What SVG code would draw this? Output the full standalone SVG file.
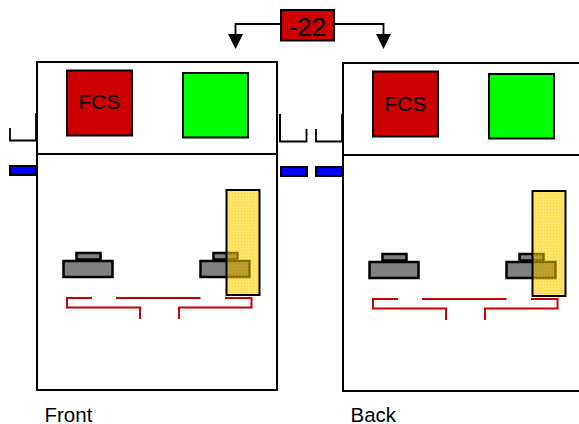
<svg xmlns="http://www.w3.org/2000/svg" width="579" height="424" viewBox="0 0 579 424">
<style>
text{font-family:"Liberation Sans",Arial,sans-serif;fill:#000}
.k{fill:none;stroke:#000;stroke-width:1.800}
.panel{fill:#fff;stroke:#000;stroke-width:2}
.fcs{fill:#cc0000;stroke:#000;stroke-width:2}
.grn{fill:#00ff00;stroke:#000;stroke-width:2}
.blu{fill:#0000ff;stroke:#000;stroke-width:2}
.gry{fill:#808080;stroke:#000;stroke-width:2.500}
.red{fill:none;stroke:#cc0000;stroke-width:2}
.yel{fill:url(#dots);stroke:#000;stroke-width:2}
.t21{font-size:21px}
.t{font-size:20.500px}
</style>
<defs>
<pattern id="dots" width="3" height="3" patternUnits="userSpaceOnUse">
<rect width="3" height="3" fill="#ffd000" fill-opacity=".58"/>
<rect x="1" y="1" width="1" height="1" fill="#ffc400" fill-opacity=".7"/>
</pattern>
<g id="unit">
<rect class="panel" x="37" y="62" width="240" height="328"/>
<line x1="36" y1="154" x2="277" y2="154" stroke="#000" stroke-width="2"/>
<rect class="gry" x="63.500" y="261" width="49" height="16"/>
<rect class="gry" x="76.500" y="253" width="24" height="6.500"/>
<rect class="gry" x="200.500" y="261" width="49" height="16"/>
<rect class="gry" x="213.500" y="253" width="24" height="6.500"/>
<path class="red" d="M92 298H67V307.500H140V319M116 298H200.500M225 298H251.500V307.500H179V319"/>
<rect class="yel" x="226.500" y="190" width="33" height="105"/>
<path d="M227.500 252H238.800V260H250.800V278.300H227.500Z" fill="#000" fill-opacity=".1"/>
</g>
</defs>
<g id="connectors">
<path class="k" d="M281 24H235.500V36M334 24H383.500V36"/>
<polygon points="228,34 243,34 235.500,49"/>
<polygon points="376,34 391,34 383.500,49"/>
<path class="k" d="M10 128V140.500H36M280 114V141.500H306.500V129M316 129V141.500H342"/>
</g>
<g id="front">
<use href="#unit"/>
<path class="k" d="M36 113V140"/>
<g id="front-fcs"><rect class="fcs" x="67" y="70.500" width="65" height="65"/><text class="t21" x="99.500" y="109" text-anchor="middle">FCS</text></g>
<g id="front-green"><rect class="grn" x="183" y="73" width="65" height="64.500"/></g>
<rect class="blu" x="10" y="166" width="26" height="9"/>
<text class="t" x="44.500" y="421.500">Front</text>
</g>
<g id="back">
<use href="#unit" x="306" y="1"/>
<path class="k" d="M342 114V141"/>
<g id="back-fcs"><rect class="fcs" x="373" y="71.500" width="65" height="65"/><text class="t21" x="405.500" y="111" text-anchor="middle">FCS</text></g>
<g id="back-green"><rect class="grn" x="489" y="74" width="65" height="64.500"/></g>
<rect class="blu" x="316" y="167" width="26" height="9"/>
<text class="t" x="350.500" y="421.500">Back</text>
</g>
<g id="mid-blue"><rect class="blu" x="281" y="167" width="26" height="9"/></g>
<g id="mid-bracket"><path class="k" d="M280 114V141"/></g>
<g id="delta"><rect class="fcs" x="281" y="10" width="53" height="30.500"/><text x="307.500" y="36" text-anchor="middle" font-size="26">-22</text></g>
</svg>
